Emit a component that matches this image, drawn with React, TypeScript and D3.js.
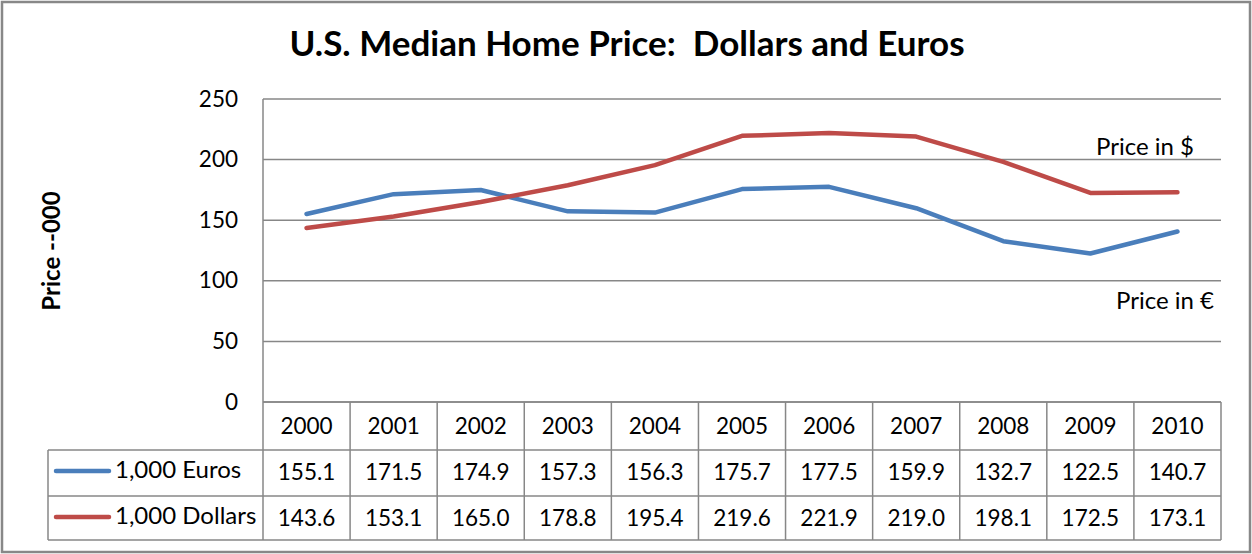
import React from "react";
import * as d3 from "d3";

const years = ["2000","2001","2002","2003","2004","2005","2006","2007","2008","2009","2010"];
const euros = [155.1,171.5,174.9,157.3,156.3,175.7,177.5,159.9,132.7,122.5,140.7];
const dollars = [143.6,153.1,165.0,178.8,195.4,219.6,221.9,219.0,198.1,172.5,173.1];
const yTicks = [0,50,100,150,200,250];
const seriesNames = ["1,000 Euros","1,000 Dollars"];
const colors = ["#4A7EBB","#BE4B48"];

const W = 1252, H = 554;
const plotL = 263, plotR = 1221, plotT = 99, plotB = 402;
const rowH = [48, 46, 44];
const legendL = 48;
const font = "Lato, 'Open Sans', sans-serif";
const grid = "#878787";
const numSize = 22.5;
const wordSize = 24;

export default function App() {
  const x = d3.scaleBand<string>().domain(years).range([plotL, plotR]);
  const y = d3.scaleLinear().domain([0, 250]).range([plotB, plotT]);
  const line = d3.line<number>().x((_, i) => x(years[i])! + x.bandwidth() / 2).y(d => y(d));
  const series = [euros, dollars];
  const r0 = plotB, r1 = r0 + rowH[0], r2 = r1 + rowH[1], r3 = r2 + rowH[2];
  const rowTops = [r1, r2];
  return (
    <svg width={W} height={H} style={{ position: "absolute", left: 0, top: 0 }} fontFamily={font}>
      <rect x={0} y={0} width={W} height={H} fill="#fff" />
      <rect x={2} y={2} width={W - 4} height={H - 4} fill="none" stroke="#888" strokeWidth={2.5} />
      <text x={627} y={56} textAnchor="middle" fontSize={35} fontWeight="bold" fill="#000" style={{ whiteSpace: "pre" }}>U.S. Median Home Price:  Dollars and Euros</text>
      <text transform={`translate(60,251) rotate(-90)`} textAnchor="middle" fontSize={wordSize} fontWeight="bold">Price --000</text>
      {yTicks.map(t => (
        <g key={t}>
          <line x1={plotL} x2={plotR} y1={y(t)} y2={y(t)} stroke={grid} strokeWidth={1.5} />
          <text x={238} y={y(t) + 7.5} textAnchor="end" fontSize={numSize}>{t}</text>
        </g>
      ))}
      <line x1={plotL} x2={plotL} y1={plotT} y2={r3} stroke={grid} strokeWidth={1.5} />
      {series.map((s, k) => (
        <path key={k} d={line(s)!} fill="none" stroke={colors[k]} strokeWidth={4.5} strokeLinejoin="round" strokeLinecap="round" />
      ))}
      <text x={1194} y={155} textAnchor="end" fontSize={wordSize}>Price in $</text>
      <text x={1214} y={309} textAnchor="end" fontSize={wordSize}>Price in €</text>
      <g stroke={grid} strokeWidth={1.5} fill="none">
        {years.map(yr => (
          <line key={yr} x1={x(yr)! + x.bandwidth()} x2={x(yr)! + x.bandwidth()} y1={r0} y2={r3} />
        ))}
        <line x1={plotL} x2={plotR} y1={r0} y2={r0} />
        <line x1={legendL} x2={plotR} y1={r1} y2={r1} />
        <line x1={legendL} x2={plotR} y1={r2} y2={r2} />
        <line x1={legendL} x2={plotR} y1={r3} y2={r3} />
        <line x1={legendL} x2={legendL} y1={r1} y2={r3} />
      </g>
      {years.map(yr => (
        <text key={yr} x={x(yr)! + x.bandwidth() / 2} y={r0 + 32} textAnchor="middle" fontSize={numSize}>{yr}</text>
      ))}
      {series.map((s, k) => (
        <g key={k}>
          <line x1={56} x2={109} y1={rowTops[k] + 21} y2={rowTops[k] + 21} stroke={colors[k]} strokeWidth={4.5} strokeLinecap="round" />
          <text x={115} y={rowTops[k] + 28} fontSize={wordSize}>{seriesNames[k]}</text>
          {s.map((v, i) => (
            <text key={i} x={x(years[i])! + x.bandwidth() / 2} y={rowTops[k] + 30} textAnchor="middle" fontSize={numSize}>{v.toFixed(1)}</text>
          ))}
        </g>
      ))}
    </svg>
  );
}
